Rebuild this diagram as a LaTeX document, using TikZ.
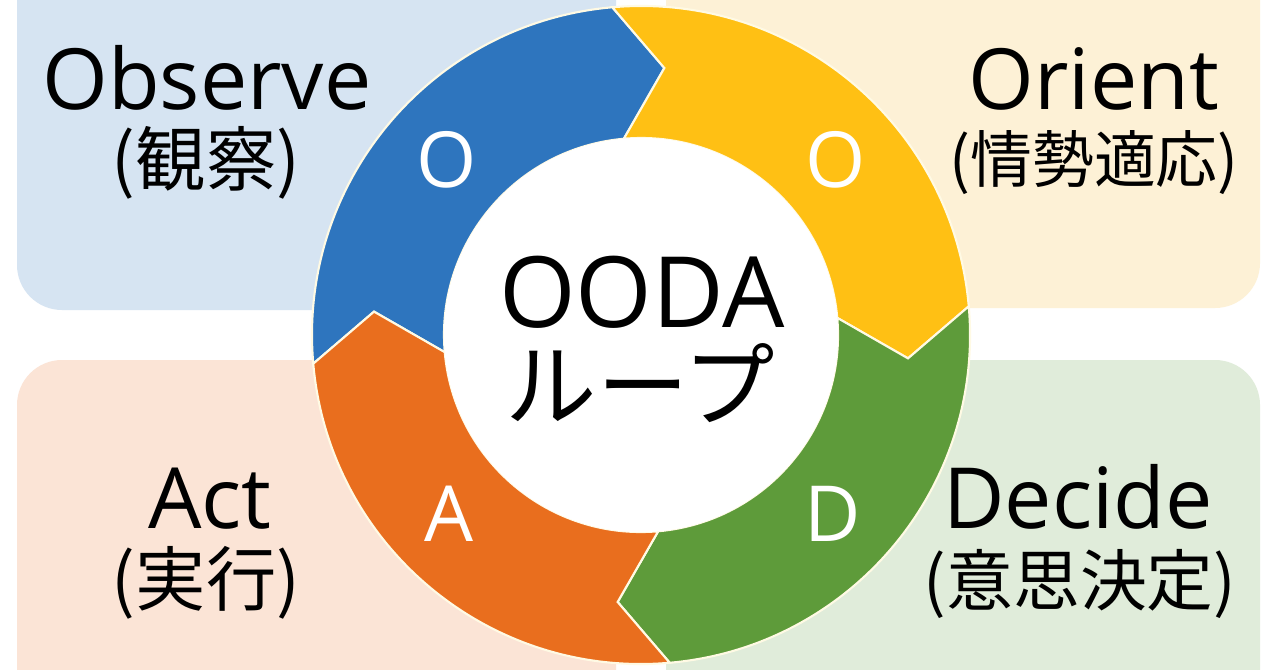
\documentclass[tikz,border=0pt]{standalone}
\usepackage{fontspec}
\setmainfont{Open Sans}
\newfontfamily\jp{Noto Sans CJK JP}
\definecolor{obscol}{RGB}{46,117,190}
\definecolor{oricol}{RGB}{255,192,20}
\definecolor{deccol}{RGB}{94,155,58}
\definecolor{actcol}{RGB}{233,110,30}
\definecolor{obsbg}{RGB}{214,228,242}
\definecolor{oribg}{RGB}{253,241,214}
\definecolor{decbg}{RGB}{224,236,218}
\definecolor{actbg}{RGB}{251,228,214}
\definecolor{edgecol}{RGB}{255,250,228}
\begin{document}
\begin{tikzpicture}[x=0.01cm, y=0.01cm,
  panel/.style={rounded corners=0.45cm},
  part/.style={draw=edgecol, line width=0.6pt},
  word/.style={anchor=base, inner sep=0pt, font=\fontsize{24}{28}\selectfont},
  kanji/.style={anchor=base, inner sep=0pt, font=\jp\fontsize{20}{24}\selectfont},
  letter/.style={text=white, font=\fontsize{22}{26}\selectfont}]
	\clip (0,0) rectangle (1280,669);
	\fill[white] (0,0) rectangle (1280,669);
	% background panels
	\fill[panel, obsbg] (17,359) rectangle (616,760);
	\fill[panel, oribg] (666,361) rectangle (1260,760);
	\fill[panel, decbg] (666,309) rectangle (1260,-90);
	\fill[panel, actbg] (17,309) rectangle (616,-90);
	% labels
	\node[word] (obs) at (207,560) {Observe};
	\node[kanji] (obsjp) at (206,484) {(観察)};
	\node[word] (ori) at (1094,560) {Orient};
	\node[kanji, font=\jp\fontsize{17.6}{22}\selectfont] (orijp) at (1094,487) {(情勢適応)};
	\node[word] (act) at (210,141) {Act};
	\node[kanji] (actjp) at (206,64) {(実行)};
	\node[word] (dec) at (1078,141) {Decide};
	\node[kanji, font=\jp\fontsize{19}{23}\selectfont] (decjp) at (1080,64) {(意思決定)};
	% loop
	\begin{scope}[shift={(641,334)}]
		\fill[part, fill=obscol] (185:329) arc[start angle=185, end angle=95, radius=329] -- (85:268) -- (95:197) arc[start angle=95, end angle=185, radius=197] -- (175:268) -- cycle;
		\fill[part, fill=oricol] (95:329) arc[start angle=95, end angle=5, radius=329] -- (-5:268) -- (5:197) arc[start angle=5, end angle=95, radius=197] -- (85:268) -- cycle;
		\fill[part, fill=deccol] (5:329) arc[start angle=5, end angle=-85, radius=329] -- (-95:268) -- (-85:197) arc[start angle=-85, end angle=5, radius=197] -- (-5:268) -- cycle;
		\fill[part, fill=actcol] (-85:329) arc[start angle=-85, end angle=-175, radius=329] -- (-185:268) -- (-175:197) arc[start angle=-175, end angle=-85, radius=197] -- (-95:268) -- cycle;
		\node[circle, fill=white, minimum size=3.94cm, inner sep=0pt] (hub) at (0,0) {};
		\node[letter] (lo1) at (138:262) {O};
		\node[letter] (lo2) at (42:262) {O};
		\node[letter] (ld) at (-43:262) {D};
		\node[letter] (la) at (-137:262) {A};
	\end{scope}
	\node[anchor=base, inner sep=0pt, font=\fontsize{28}{32}\selectfont] (ooda) at (642,342) {OODA};
	\node[anchor=base, inner sep=0pt, font=\jp\fontsize{26}{30}\selectfont] (loop) at (640,250) {ループ};
\end{tikzpicture}
\end{document}
